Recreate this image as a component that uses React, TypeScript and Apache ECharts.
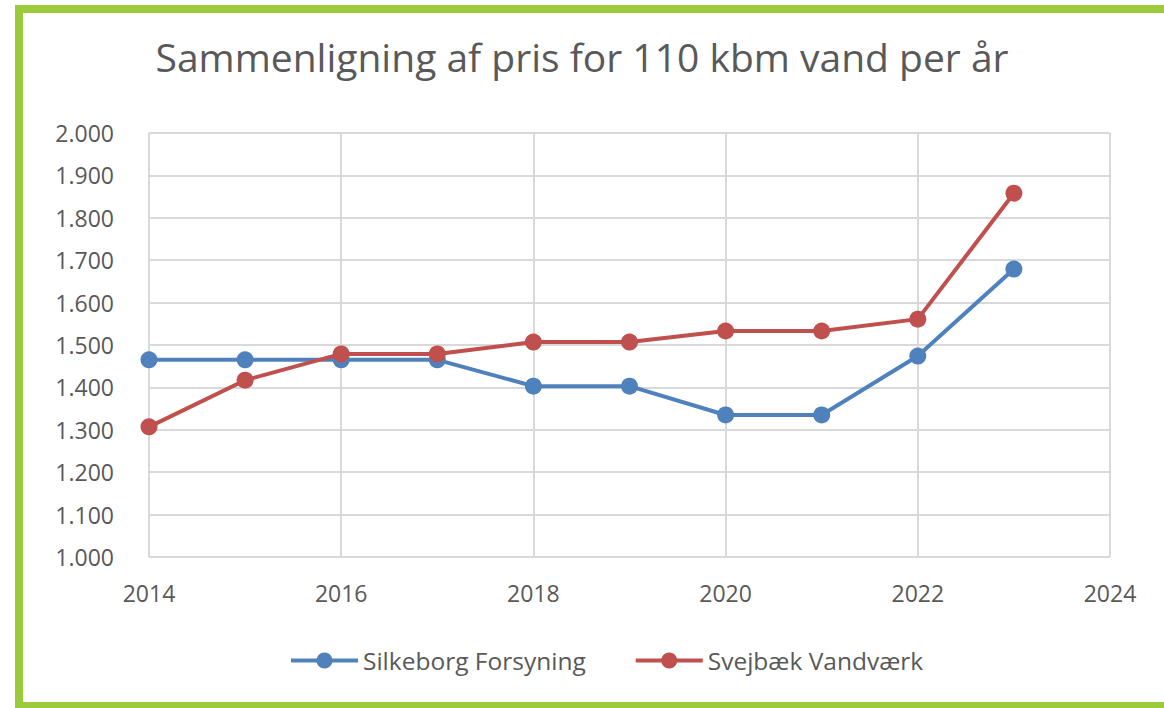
import React, { useEffect, useRef } from "react";
import * as echarts from "echarts";

const years = [2014, 2015, 2016, 2017, 2018, 2019, 2020, 2021, 2022, 2023];
const silkeborg = [1465, 1465, 1465, 1465, 1403, 1403, 1335, 1335, 1474, 1679];
const svejbaek = [1307, 1417, 1479, 1479, 1507, 1507, 1533, 1533, 1561, 1858];
const seriesNames = ["Silkeborg Forsyning", "Svejbæk Vandværk"];
const titleText = "Sammenligning af pris for 110 kbm vand per år";

const FONT = "'Open Sans', 'Noto Sans', sans-serif";

function fmtThousands(v: number): string {
  const s = Math.round(v).toString();
  return s.replace(/\B(?=(\d{3})+(?!\d))/g, ".");
}

export default function App() {
  const ref = useRef<HTMLDivElement>(null);
  useEffect(() => {
    if (!ref.current) return;
    const chart = echarts.init(ref.current, undefined, { renderer: "svg" });
    const mk = (vals: number[]) => years.map((y, i) => [y, vals[i]]);
    chart.setOption({
      animation: false,
      backgroundColor: "#ffffff",
      title: {
        text: titleText,
        left: "center",
        top: 32,
        textStyle: { fontFamily: FONT, fontSize: 39, fontWeight: "normal", color: "#595959" },
      },
      legend: {
        top: 643,
        left: 284,
        itemWidth: 67,
        itemHeight: 20,
        itemGap: 48,
        lineStyle: { width: 4 },
        textStyle: { fontFamily: FONT, fontSize: 24.5, color: "#595959" },
        data: seriesNames,
      },
      grid: { left: 149, right: 54, top: 133, bottom: 151, show: false },
      xAxis: {
        type: "value",
        min: 2014,
        max: 2024,
        interval: 2,
        axisLine: { show: false },
        axisTick: { show: false },
        splitLine: { show: true, lineStyle: { color: "#d9d9d9", width: 2 } },
        axisLabel: {
          fontFamily: FONT,
          fontSize: 23,
          color: "#595959",
          margin: 24,
          formatter: (v: number) => String(v),
        },
      },
      yAxis: {
        type: "value",
        min: 1000,
        max: 2000,
        interval: 100,
        axisLine: { show: false },
        axisTick: { show: false },
        splitLine: { show: true, lineStyle: { color: "#d9d9d9", width: 2 } },
        axisLabel: {
          fontFamily: FONT,
          fontSize: 23,
          color: "#595959",
          margin: 35,
          formatter: (v: number) => fmtThousands(v),
        },
      },
      graphic: [
        {
          type: "rect",
          shape: { x: 19, y: 9, width: 1200, height: 697 },
          style: { fill: "none", stroke: "#9bcb3b", lineWidth: 8 },
          z: 100,
          silent: true,
        },
      ],
      series: [
        {
          name: seriesNames[0],
          type: "line",
          data: mk(silkeborg),
          symbol: "circle",
          symbolSize: 17,
          lineStyle: { color: "#4f81bd", width: 4 },
          itemStyle: { color: "#4f81bd" },
          z: 2,
        },
        {
          name: seriesNames[1],
          type: "line",
          data: mk(svejbaek),
          symbol: "circle",
          symbolSize: 17,
          lineStyle: { color: "#c0504d", width: 4 },
          itemStyle: { color: "#c0504d" },
          z: 3,
        },
      ],
    });
    return () => chart.dispose();
  }, []);
  return (
    <div
      ref={ref}
      style={{ position: "fixed", left: 0, top: 0, width: 1164, height: 708 }}
    />
  );
}
